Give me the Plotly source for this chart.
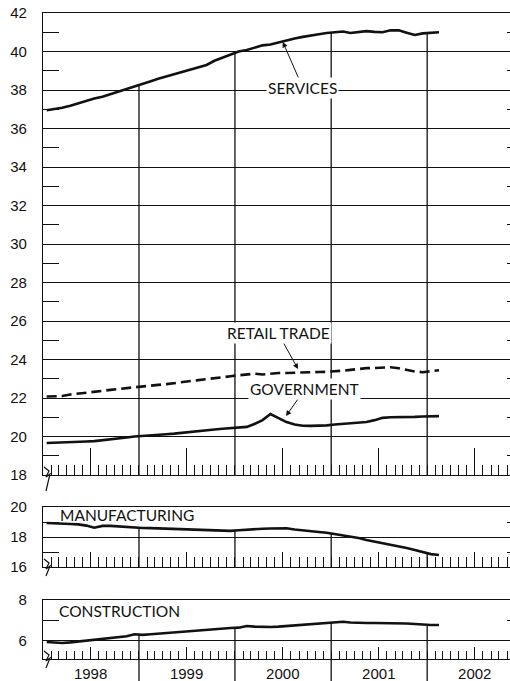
import numpy as np
import pandas as pd
import plotly.graph_objects as go

# monthly observations, Jan 1998 - Feb 2002 (plotted mid-month)
months = pd.date_range("1998-01-01", periods=50, freq="MS") + pd.Timedelta(days=14)

services = [36.95, 37.0, 37.08, 37.18, 37.3, 37.45, 37.56, 37.65, 37.78, 37.92,
            38.05, 38.2, 38.32, 38.45, 38.58, 38.7, 38.84, 38.96, 39.06, 39.18,
            39.3, 39.52, 39.68, 39.85, 40.0, 40.08, 40.2, 40.32, 40.36, 40.48,
            40.58, 40.68, 40.76, 40.84, 40.9, 40.96, 41.0, 41.04, 40.96, 41.03,
            41.06, 41.02, 41.0, 41.1, 41.1, 40.98, 40.86, 40.94, 40.97, 41.0]

retail_trade = [22.08, 22.08, 22.1, 22.18, 22.22, 22.27, 22.32, 22.36, 22.42, 22.47,
                22.52, 22.57, 22.6, 22.64, 22.68, 22.72, 22.78, 22.82, 22.88, 22.93,
                22.98, 23.04, 23.08, 23.13, 23.18, 23.22, 23.26, 23.22, 23.27, 23.3,
                23.3, 23.32, 23.33, 23.34, 23.35, 23.36, 23.38, 23.42, 23.46, 23.52,
                23.55, 23.56, 23.58, 23.6, 23.55, 23.46, 23.38, 23.34, 23.38, 23.44]

government = [19.66, 19.67, 19.68, 19.7, 19.72, 19.74, 19.76, 19.8, 19.85, 19.9,
              19.95, 20.0, 20.04, 20.07, 20.1, 20.12, 20.15, 20.2, 20.24, 20.28,
              20.32, 20.36, 20.4, 20.43, 20.46, 20.5, 20.65, 20.85, 21.17, 20.95,
              20.75, 20.62, 20.56, 20.55, 20.56, 20.58, 20.62, 20.66, 20.7, 20.72,
              20.75, 20.85, 20.97, 21.0, 21.0, 21.0, 21.02, 21.04, 21.05, 21.06]

manufacturing = [18.93, 18.92, 18.9, 18.87, 18.84, 18.76, 18.62, 18.74, 18.74, 18.7,
                 18.66, 18.62, 18.6, 18.59, 18.57, 18.56, 18.54, 18.52, 18.5, 18.48,
                 18.46, 18.45, 18.43, 18.41, 18.45, 18.5, 18.53, 18.55, 18.57, 18.6,
                 18.58, 18.5, 18.43, 18.38, 18.33, 18.28, 18.2, 18.12, 18.03, 17.93,
                 17.8, 17.7, 17.6, 17.5, 17.4, 17.27, 17.13, 16.98, 16.86, 16.8]

construction = [5.95, 5.92, 5.9, 5.93, 5.97, 6.03, 6.07, 6.1, 6.14, 6.18,
                6.23, 6.33, 6.3, 6.33, 6.36, 6.39, 6.43, 6.46, 6.49, 6.52,
                6.55, 6.58, 6.61, 6.63, 6.65, 6.73, 6.7, 6.68, 6.68, 6.7,
                6.73, 6.76, 6.8, 6.84, 6.86, 6.88, 6.91, 6.94, 6.9, 6.88,
                6.88, 6.88, 6.88, 6.88, 6.87, 6.85, 6.83, 6.79, 6.78, 6.78]

year_starts = pd.to_datetime(["1999-01-01", "2000-01-01", "2001-01-01", "2002-01-01"])

W, H, L = 510, 681, 43
INK = "#111111"
TICK_FONT = dict(family="Liberation Sans", size=15, color=INK)
LABEL_FONT = dict(family="Lato", size=15.5, color=INK)

# panel pixel extents (top, bottom) -> paper domains
panels = {"top": (13, 475), "mid": (507, 567), "bot": (600, 659)}
dom = {k: [1 - b / H, 1 - t / H] for k, (t, b) in panels.items()}
yranges = {"top": [18, 42], "mid": [16, 20], "bot": [5.12, 8]}

fig = go.Figure()


def add_line(y, xa, ya, dash="solid"):
    fig.add_trace(go.Scatter(x=months, y=y, xaxis=xa, yaxis=ya, mode="lines",
                             line=dict(color=INK, width=2.6, dash=dash),
                             showlegend=False, hoverinfo="skip"))


def add_year_lines(series, xa, ya, ymin):
    mx = months.asi8.astype(float)
    for ys in year_starts:
        top = np.interp(float(ys.value), mx, series)
        fig.add_trace(go.Scatter(x=[ys, ys], y=[ymin, top], xaxis=xa, yaxis=ya,
                                 mode="lines", line=dict(color=INK, width=1.3),
                                 showlegend=False, hoverinfo="skip"))


add_year_lines(services, "x", "y", yranges["top"][0])
add_line(services, "x", "y")
add_line(retail_trade, "x", "y", dash="10px,5px")
add_line(government, "x", "y")

add_year_lines(manufacturing, "x2", "y2", yranges["mid"][0])
add_line(manufacturing, "x2", "y2")

add_year_lines(construction, "x3", "y3", yranges["bot"][0])
add_line(construction, "x3", "y3")

xrange = ["1998-01-01", "2002-11-12"]


def xaxis(anchor, major_len, minor_len, labels=False):
    return dict(range=xrange, type="date", anchor=anchor, domain=[0, 1],
                showline=True, mirror=True, linecolor=INK, linewidth=1.3,
                showgrid=False, zeroline=False,
                ticks="inside", ticklen=major_len, tickwidth=1.3, tickcolor=INK,
                tick0="1998-07-01", dtick="M12",
                minor=dict(ticks="inside", ticklen=minor_len, tickwidth=1.3,
                           tickcolor=INK, dtick="M1", tick0="1998-01-01", showgrid=False),
                showticklabels=labels, tickformat="%Y", tickfont=TICK_FONT,
                ticklabelstandoff=1)


def yaxis(anchor, key):
    return dict(range=yranges[key], domain=dom[key], anchor=anchor,
                showline=True, linecolor=INK, linewidth=1.3,
                showgrid=True, gridcolor=INK, gridwidth=1.2, zeroline=False,
                ticks="", dtick=2, tick0=0, tickfont=TICK_FONT, ticklabelstandoff=12,
                minor=dict(ticks="inside", ticklen=16, tickwidth=1.3, tickcolor=INK,
                           dtick=1, tick0=0, showgrid=False))


def ymirror(over, xa, key):
    return dict(range=yranges[key], overlaying=over, side="right", anchor=xa,
                showline=False, showgrid=False, zeroline=False, showticklabels=False,
                tickmode="array", tickvals=list(range(1, 43, 2)),
                ticks="inside", ticklen=3, tickwidth=1.3, tickcolor=INK)


fig.update_layout(
    width=W, height=H, template="none",
    margin=dict(l=L, r=0, t=0, b=0),
    paper_bgcolor="white", plot_bgcolor="white",
    xaxis=xaxis("y", 27, 10),
    xaxis2=xaxis("y2", 15, 10),
    xaxis3=xaxis("y3", 12, 8, labels=True),
    yaxis=yaxis("x", "top"),
    yaxis2=yaxis("x2", "mid"),
    yaxis3=yaxis("x3", "bot"),
    yaxis4=ymirror("y", "x", "top"),
    yaxis5=ymirror("y2", "x2", "mid"),
    yaxis6=ymirror("y3", "x3", "bot"),
    showlegend=False,
)

# invisible carriers so the right-hand tick axes render
for ya, xa, s in [("y4", "x", services), ("y5", "x2", manufacturing), ("y6", "x3", construction)]:
    fig.add_trace(go.Scatter(x=months, y=s, xaxis=xa, yaxis=ya, mode="lines",
                             line=dict(width=0), opacity=0, showlegend=False, hoverinfo="skip"))

arrow = dict(showarrow=True, arrowhead=2, arrowsize=1.1, arrowwidth=1, arrowcolor=INK,
             bgcolor="white", borderpad=1, font=LABEL_FONT, xref="x", yref="y")
fig.add_annotation(x="2000-07-01", y=40.5, text="SERVICES", ax=20, ay=46, **arrow)
fig.add_annotation(x="2000-08-28", y=23.5, text="RETAIL TRADE", ax=-20, ay=-36, **arrow)
fig.add_annotation(x="2000-07-13", y=21.06, text="GOVERNMENT", ax=19, ay=-27, **arrow)

fig.add_annotation(text="MANUFACTURING", xref="x2 domain", yref="y2 domain",
                   x=0.032, y=0.87, xanchor="left", yanchor="middle",
                   showarrow=False, font=LABEL_FONT)
fig.add_annotation(text="CONSTRUCTION", xref="x3 domain", yref="y3 domain",
                   x=0.03, y=0.81, xanchor="left", yanchor="middle",
                   showarrow=False, font=LABEL_FONT)


def px(x, y):
    return (x - L) / (W - L), 1 - y / H


# axis-break marks at the foot of each y axis
for key, depth in [("top", 16), ("mid", 9), ("bot", 9)]:
    b = panels[key][1]
    pts = [px(44, b - 8), px(49, b - 4), px(46, b + 2), px(50, b - 1), px(46, b + depth)]
    path = "M " + " L ".join(f"{x:.5f},{y:.5f}" for x, y in pts)
    fig.add_shape(type="path", path=path, xref="paper", yref="paper",
                  line=dict(color=INK, width=1.2))

# year separators continue below the bottom axis, between the year labels
for ys in year_starts:
    fig.add_shape(type="line", xref="x3", yref="paper", x0=ys, x1=ys,
                  y0=0, y1=dom["bot"][0], line=dict(color=INK, width=1.3))

fig.write_html("out.html", config={"displayModeBar": False},
               post_script="document.body.style.margin='0';")
